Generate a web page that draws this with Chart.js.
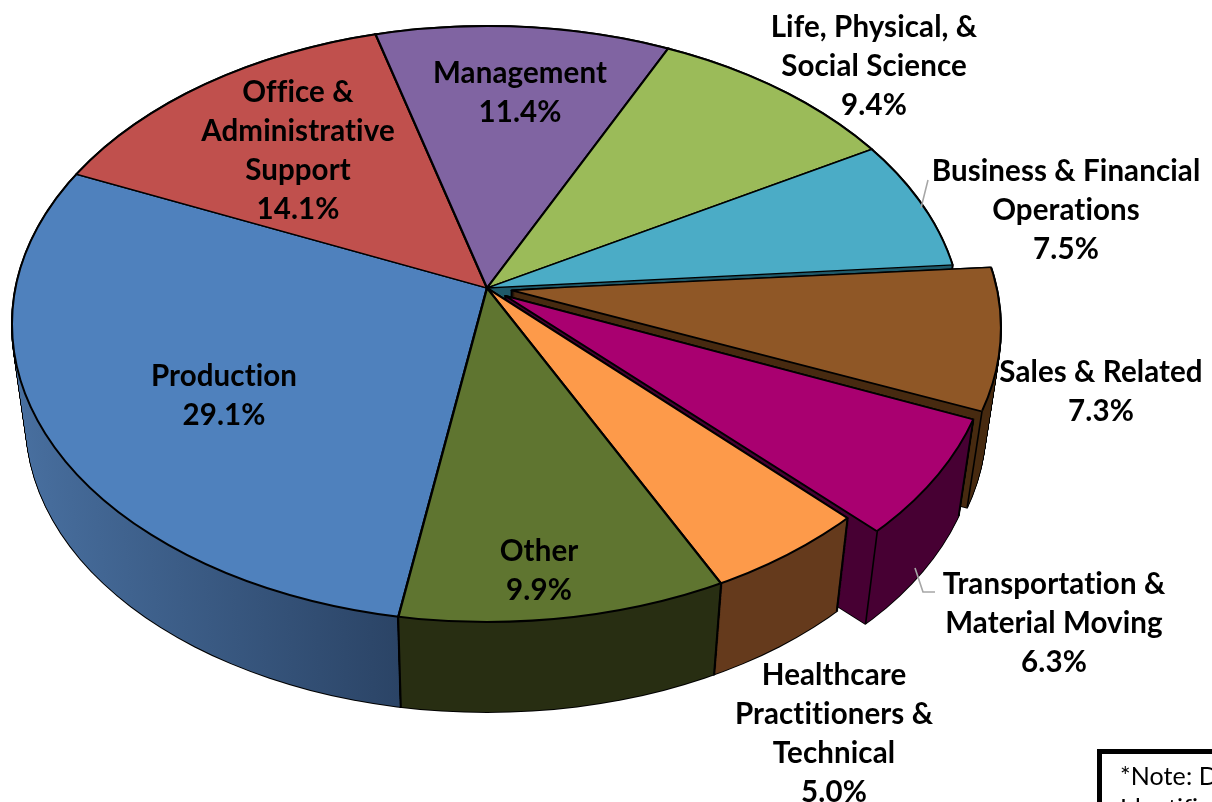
<!DOCTYPE html>
<html>
<head>
<meta charset="utf-8">
<style>html,body{margin:0;padding:0;background:#fff;overflow:hidden}canvas{display:block}</style>
<script src="https://cdn.jsdelivr.net/npm/chart.js@4"></script>
</head>
<body>
<canvas id="c" width="1212" height="802"></canvas>
<script>
const categories = ['Production','Office & Administrative Support','Management','Life, Physical, & Social Science','Business & Financial Operations','Sales & Related','Transportation & Material Moving','Healthcare Practitioners & Technical','Other'];
const shares = [29.1,14.1,11.4,9.4,7.5,7.3,6.3,5.0,9.9];
const labelLines = [['Production'],['Office &','Administrative','Support'],['Management'],['Life, Physical, &','Social Science'],['Business & Financial','Operations'],['Sales & Related'],['Transportation &','Material Moving'],['Healthcare','Practitioners &','Technical'],['Other']];
const topColors = ['#4f81bd','#c0504d','#8064a2','#9bbb59','#4bacc6','#8f5726','#a90070','#fd9a4a','#5f7530'];
const sideColors = [['#486f9f','#2b4466'],['#7a302e','#7a302e'],['#4d3b63','#4d3b63'],['#5e7236','#5e7236'],['#1f5a6a','#1f5a6a'],['#472a10','#472a10'],['#470033','#470033'],['#653a1c','#653a1c'],['#33391a','#282e12']];
const explode = [0,0,0,0,0,100,86,0,0];
const labelAnchors = [[224,376],[298,92],[520,73],[874,27],[1066,171],[1101,372],[1054,584],[834,675],[539,551]];

// Projection of the pie disc: apex of the slices, rim ellipse, extrusion
const CX=487, CY=288, RIM_DY=36, RX=475, RY=298, R=520, K_UP=0.554, K_DOWN=0.704, DEPTH=100, SHRINK=0.03;
const deg=Math.PI/180;
function warp(a){const n=a+Math.PI/2;return a+(-2.8+3.2*Math.cos(n-270*deg)+1.5*Math.cos(3*(n-90*deg)))*deg;}
function shift(arc,o){const off=o/4,h=(arc.startAngle+arc.endAngle)/2,c=arc.endAngle-arc.startAngle,fix=1-Math.sin(Math.min(Math.PI,c));return [Math.cos(h)*off*(1+fix),Math.sin(h)*off*(1+fix)];}
function ellipseOf(arc,i,t){
  const [ox,oy]=shift(arc,explode[i]),s=1-SHRINK*t;
  return {x:CX+s*ox,y:CY+t*DEPTH+s*(RIM_DY+oy*(oy<0?K_UP:K_DOWN)),rx:RX*s,ry:RY*s};
}
function layer(ctx,arc,i,t,up,grow,fn){
  const s=1-SHRINK*t,y0=CY+Math.round(t*DEPTH),e=ellipseOf(arc,i,t);
  ctx.save();
  ctx.beginPath();
  if(up) ctx.rect(-20,-20,1300,y0+20); else ctx.rect(-20,y0,1300,900);
  ctx.clip();
  ctx.beginPath();ctx.ellipse(e.x,e.y,e.rx+grow,e.ry+grow,0,0,Math.PI*2);ctx.clip();
  ctx.translate(CX,y0);
  ctx.scale(s,s*(up?K_UP:K_DOWN));
  ctx.translate(-CX,-CY);
  fn();
  ctx.restore();
}
function opts(i,bg,bw){return {backgroundColor:bg,borderColor:'#000',borderWidth:bw,borderAlign:'center',borderJoinStyle:'round',borderDash:[],borderDashOffset:0,offset:explode[i],spacing:0,circular:true,borderRadius:0,selfJoin:false};}
function proj(arc,i,a,r,t){
  const [ox,oy]=shift(arc,explode[i]),x=Math.cos(a)*r+ox,y=Math.sin(a)*r+oy,s=1-SHRINK*t;
  return [CX+s*x,CY+t*DEPTH+s*y*(y<0?K_UP:K_DOWN)];
}
function rimPoint(arc,i,a,t){
  const e=ellipseOf(arc,i,t);let lo=0,hi=800;
  for(let n=0;n<30;n++){const m=(lo+hi)/2,p=proj(arc,i,a,m,t),dx=(p[0]-e.x)/e.rx,dy=(p[1]-e.y)/e.ry;if(dx*dx+dy*dy<1)lo=m;else hi=m;}
  return proj(arc,i,a,lo,t);
}
function strokeRim(ctx,arc,i){
  const e=ellipseOf(arc,i,0),pts=[];
  for(let r=0;r<=800;r+=20)pts.push(proj(arc,i,arc.startAngle,r,0));
  for(let a=arc.startAngle;a<arc.endAngle;a+=2*deg)pts.push(proj(arc,i,a,800,0));
  for(let r=800;r>=0;r-=20)pts.push(proj(arc,i,arc.endAngle,r,0));
  ctx.save();
  ctx.beginPath();pts.forEach((p,k)=>k?ctx.lineTo(p[0],p[1]):ctx.moveTo(p[0],p[1]));ctx.closePath();ctx.clip();
  ctx.strokeStyle='#000';ctx.lineWidth=2;
  ctx.beginPath();ctx.ellipse(e.x,e.y,e.rx,e.ry,0,0,Math.PI*2);ctx.stroke();
  ctx.restore();
}
const pie3d={id:'pie3d',
  beforeDatasetsDraw(chart){
    const ctx=chart.ctx,arcs=chart.getDatasetMeta(0).data;
    arcs.forEach(a=>{const s=warp(a.startAngle),e=warp(a.endAngle);a.startAngle=s;a.endAngle=e;a.circumference=e-s;});
    const order=arcs.map((a,i)=>i).sort((p,q)=>Math.sin((arcs[p].startAngle+arcs[p].endAngle)/2)-Math.sin((arcs[q].startAngle+arcs[q].endAngle)/2));
    const N=DEPTH;
    order.forEach(i=>{
      const a=arcs[i];
      for(let k=N;k>=0;k--){const t=k/N;[true,false].forEach(up=>layer(ctx,a,i,t,up,1,()=>{a.options=opts(i,'#000',2.4);a.draw(ctx);}));}
      const g=ctx.createLinearGradient(CX-RX,0,CX-90,0);
      g.addColorStop(0,sideColors[i][0]);g.addColorStop(1,sideColors[i][1]);
      for(let k=N;k>=0;k--){const t=k/N;[true,false].forEach(up=>layer(ctx,a,i,t,up,0,()=>{a.options=opts(i,g,0);a.draw(ctx);}));}
      [a.startAngle,a.endAngle].forEach(an=>{
        if(Math.sin(an)>-0.1){
          const p=rimPoint(a,i,an,0),q=rimPoint(a,i,an,1);
          ctx.save();ctx.strokeStyle='#000';ctx.lineWidth=1.6;ctx.beginPath();ctx.moveTo(p[0],p[1]);ctx.lineTo(q[0],q[1]);ctx.stroke();ctx.restore();
        }
      });
    });
    arcs.forEach((a,i)=>{
      [true,false].forEach(up=>layer(ctx,a,i,0,up,0,()=>{a.options=opts(i,topColors[i],2.4);a.draw(ctx);}));
      strokeRim(ctx,a,i);
    });
    return false;
  },
  afterDraw(chart){
    const ctx=chart.ctx;
    ctx.save();
    ctx.strokeStyle='#a6a6a6';ctx.lineWidth=1.6;
    ctx.beginPath();ctx.moveTo(921,208);ctx.lineTo(928,180);ctx.stroke();
    ctx.beginPath();ctx.moveTo(915,568);ctx.lineTo(923,592);ctx.lineTo(935,592);ctx.stroke();
    ctx.fillStyle='#000';ctx.textAlign='center';ctx.textBaseline='middle';
    ctx.font='bold 29.5px Lato';ctx.letterSpacing='0.1px';
    labelLines.forEach((ls,i)=>{
      const [x,y]=labelAnchors[i];
      ls.concat([shares[i].toFixed(1)+'%']).forEach((l,j)=>ctx.fillText(l,x,y+j*39));
    });
    ctx.strokeStyle='#000';ctx.lineWidth=5;
    ctx.strokeRect(1099.5,751.5,200,100);
    ctx.textAlign='left';ctx.font='25px Lato';
    ctx.fillText('*Note: D',1120,777);
    ctx.fillText('Identifi',1120,809);
    ctx.restore();
  }
};
new Chart(document.getElementById('c'),{
  type:'pie',
  data:{labels:categories,datasets:[{data:shares,backgroundColor:topColors,borderColor:'#000',borderWidth:2,offset:explode,clip:false}]},
  options:{responsive:false,animation:false,rotation:192,radius:R,
    layout:{padding:{left:0,top:0,right:1212-2*CX,bottom:802-2*CY}},
    plugins:{legend:{display:false},tooltip:{enabled:false}}},
  plugins:[pie3d]
});
</script>
</body>
</html>
